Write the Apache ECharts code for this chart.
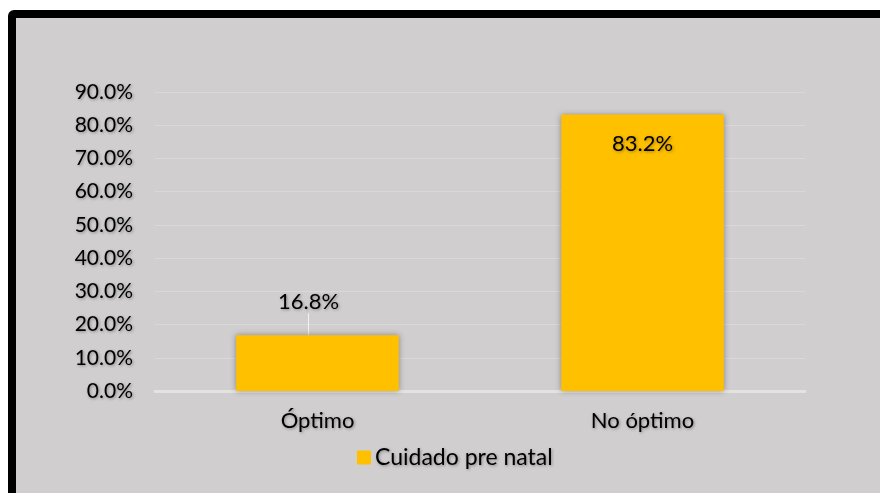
<!DOCTYPE html>
<html>
<head>
<meta charset="utf-8">
<script src="https://cdn.jsdelivr.net/npm/echarts@6/dist/echarts.min.js"></script>
<style>
html,body{margin:0;padding:0;background:#ffffff;width:880px;height:493px;overflow:hidden;}
#frame{position:absolute;left:8px;top:10px;width:890px;height:500px;background:#000;border-radius:6px;}
#chart{position:absolute;left:0;top:0;width:880px;height:493px;}
#inner{position:absolute;left:16px;top:18px;width:880px;height:493px;background:#d0cece;}
</style>
</head>
<body>
<div id="frame"></div>
<div id="inner"></div>
<div id="chart"></div>
<script>
var categories = ['Óptimo', 'No óptimo'];
var seriesName = 'Cuidado pre natal';
var values = [16.8, 83.2];
var yTicks = [0, 10, 20, 30, 40, 50, 60, 70, 80, 90];

var font = 'Lato';
var txtShadow = {textShadowColor: 'rgba(0,0,0,0.35)', textShadowBlur: 3, textShadowOffsetX: 1, textShadowOffsetY: 1};

var chart = echarts.init(document.getElementById('chart'), null, {renderer: 'canvas'});
chart.setOption({
  backgroundColor: 'transparent',
  animation: false,
  legend: {
    bottom: 19,
    left: 352,
    itemWidth: 14,
    itemHeight: 14,
    itemGap: 6,
    icon: 'rect',
    textStyle: Object.assign({fontFamily: font, fontSize: 23, color: '#000', padding: [0, 0, 0, -1]}, txtShadow),
    data: [seriesName]
  },
  grid: {left: 155, right: 75, top: 92, bottom: 102, containLabel: false},
  xAxis: {
    type: 'category',
    data: categories,
    axisLine: {show: true, lineStyle: {color: '#e3e3e3', width: 3}},
    axisTick: {show: false},
    axisLabel: Object.assign({fontFamily: font, fontSize: 22, color: '#000', margin: 19}, txtShadow)
  },
  yAxis: {
    type: 'value',
    min: yTicks[0],
    max: yTicks[yTicks.length - 1],
    interval: 10,
    axisLine: {show: false},
    axisTick: {show: false},
    splitLine: {lineStyle: {color: '#d9d9d9', width: 1}},
    axisLabel: Object.assign({fontFamily: font, fontSize: 21, color: '#000', margin: 22,
      formatter: function (v) { return v.toFixed(1) + '%'; }}, txtShadow)
  },
  series: [{
    name: seriesName,
    type: 'bar',
    barWidth: '50%',
    itemStyle: {color: '#FFC000', shadowColor: 'rgba(0,0,0,0.35)', shadowBlur: 6},
    labelLayout: function (p) {
      if (p.dataIndex === 0) { return {dx: -9, dy: -20}; }
      return {};
    },
    labelLine: {show: true, lineStyle: {color: '#f2f2f2', width: 1}},
    data: [
      {value: values[0],
        label: {show: true, position: 'top', distance: 2}},
      {value: values[1],
        label: {show: true, position: 'insideTop', distance: 18}, labelLine: {show: false}}
    ],
    label: Object.assign({fontFamily: font, fontSize: 22, color: '#000',
      formatter: function (p) { return p.value.toFixed(1) + '%'; }}, txtShadow)
  }]
});
</script>
</body>
</html>
